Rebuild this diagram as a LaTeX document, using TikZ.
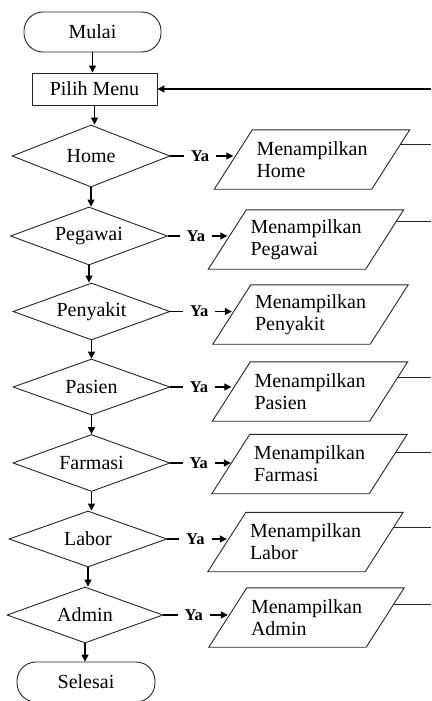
\documentclass[tikz,border=0pt]{standalone}
\usepackage{fontspec}
\setmainfont{Liberation Serif}
\usetikzlibrary{shapes.geometric,arrows.meta,calc}

% outline of a slanted input/output box drawn round a rectangular node
\newcommand\slantoutline[1]{%
  \draw[outline] ($(#1.north west)+(19,0)$) -- ($(#1.north east)+(19,0)$)
    -- ($(#1.south east)+(-19,0)$) -- ($(#1.south west)+(-19,0)$) -- cycle;}

\begin{document}
\begin{tikzpicture}[x=1pt,y=-1pt,
  font=\fontsize{20}{22}\selectfont,
  outline/.style={draw=black!85, line width=0.9pt},
  terminal/.style={outline, rectangle, rounded corners=19pt, minimum width=137pt, minimum height=40pt, inner sep=0pt},
  process/.style={outline, rectangle, minimum width=125pt, minimum height=32pt, inner sep=0pt},
  decision/.style={outline, diamond, aspect=2.75, inner sep=0pt},
  iobox/.style={rectangle, minimum width=157pt, minimum height=59pt, inner xsep=23pt, inner ysep=0pt, text width=111pt, align=left},
  flow/.style={draw=black, line width=1.3pt, -{Triangle[length=7pt,width=7pt]}},
  yes/.style={font=\fontsize{16.5}{18}\selectfont\bfseries, fill=white, inner xsep=7pt, inner ysep=3pt, pos=0.47},
  link/.style={draw=black!85, line width=0.9pt}
]
\useasboundingbox (0,0) rectangle (431,701);
\coordinate (edge) at (431,0);

% start and menu
\node[terminal] (start) at (92.5,32) {Mulai};
\node[process] (menu) at (94.5,89) {Pilih Menu};

% decisions
\node[decision, minimum width=158pt, minimum height=62pt] (home) at (91,156) {Home};
\node[decision, minimum width=157pt, minimum height=58pt] (pegawai) at (89,236) {Pegawai};
\node[decision, minimum width=157pt, minimum height=57pt] (penyakit) at (91.5,311.5) {Penyakit};
\node[decision, minimum width=157pt, minimum height=56pt] (pasien) at (91.5,387) {Pasien};
\node[decision, minimum width=157pt, minimum height=57pt] (farmasi) at (91.5,463) {Farmasi};
\node[decision, minimum width=158pt, minimum height=56pt] (labor) at (88,539) {Labor};
\node[decision, minimum width=156pt, minimum height=56pt] (admin) at (85,615) {Admin};

\node[terminal, minimum width=138pt] (stop) at (86,682) {Selesai};

% outputs
\node[iobox] (showhome) at (312,159.5) {Menampilkan\\Home};
\node[iobox] (showpegawai) at (306,239.5) {Menampilkan\\Pegawai};
\node[iobox] (showpenyakit) at (310.5,314.5) {Menampilkan\\Penyakit};
\node[iobox] (showpasien) at (310,391.5) {Menampilkan\\Pasien};
\node[iobox] (showfarmasi) at (309.5,464) {Menampilkan\\Farmasi};
\node[iobox] (showlabor) at (305.5,542) {Menampilkan\\Labor};
\node[iobox] (showadmin) at (306.5,617.5) {Menampilkan\\Admin};
\foreach \n in {showhome,showpegawai,showpenyakit,showpasien,showfarmasi,showlabor,showadmin}
  \slantoutline{\n};

% main vertical flow
\draw[flow] (start.south) -- (start.south |- menu.north);
\draw[flow] (menu.south) -- (menu.south |- home.north);
\draw[flow] (home.south) -- (home.south |- pegawai.north);
\draw[flow] (pegawai.south) -- (pegawai.south |- penyakit.north);
\draw[flow] (penyakit.south) -- (penyakit.south |- pasien.north);
\draw[flow] (pasien.south) -- (pasien.south |- farmasi.north);
\draw[flow] (farmasi.south) -- (farmasi.south |- labor.north);
\draw[flow] (labor.south) -- (labor.south |- admin.north);
\draw[flow] (admin.south) -- (admin.south |- stop.north);

% "Ya" branches
\foreach \d/\o in {home/showhome,pegawai/showpegawai,penyakit/showpenyakit,pasien/showpasien,farmasi/showfarmasi,labor/showlabor,admin/showadmin}
  \draw[flow] (\d.east) -- node[yes] {Ya} (\d.east -| \o.west);

% lines back towards the menu
\foreach \o/\t in {showhome/0.25,showpegawai/0.2,showpasien/0.26,showfarmasi/0.3,showlabor/0.25,showadmin/0.28} {
  \coordinate (\o-out) at ($($(\o.north east)+(19,0)$)!\t!($(\o.south east)+(-19,0)$)$);
  \draw[link] (\o-out) -- (\o-out -| edge);
}
\draw[flow] (menu.east -| edge) -- (menu.east);

\end{tikzpicture}
\end{document}
